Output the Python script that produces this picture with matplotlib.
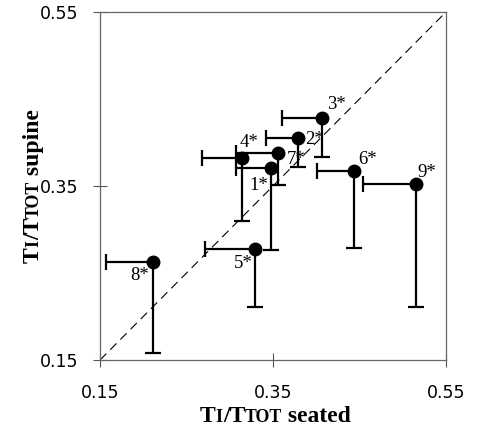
import numpy as np
import matplotlib
matplotlib.use('Agg')
import matplotlib.pyplot as plt


##DATA##########################################################################
subjects = ['1*', '2*', '3*', '4*', '5*', '6*', '7*', '8*', '9*']
seated = [0.348, 0.379, 0.407, 0.314, 0.329, 0.444, 0.356, 0.211, 0.515]
supine = [0.371, 0.405, 0.428, 0.382, 0.278, 0.367, 0.388, 0.263, 0.352]
seated_low = [0.307, 0.342, 0.360, 0.268, 0.271, 0.401, 0.307, 0.157, 0.454]
supine_low = [0.276, 0.372, 0.383, 0.310, 0.211, 0.279, 0.351, 0.158, 0.211]
ticks = [0.15, 0.35, 0.55]
################################################################################

# label offsets in pixels (dx, dy) from each point
label_offsets = [(-12, -18), (16, -1), (14, 14), (7, 16), (-12, -15),
                 (13, 12), (18, -7), (-13, -14), (11, 12)]

serif = ['Liberation Serif', 'DejaVu Serif']
sans = ['DejaVu Sans']

fig = plt.figure(figsize=(4.82, 4.32), dpi=100)
ax = fig.add_axes([100 / 482, 72 / 432, 346 / 482, 348 / 432])

ax.set_xlim(0.15, 0.55)
ax.set_ylim(0.15, 0.55)

# identity line
ax.plot([0.15, 0.55], [0.15, 0.55], color='k', linewidth=0.8,
        dashes=(8, 5), zorder=1)

# one-sided error bars: left and down
ax.hlines(supine, seated_low, seated, color='k', linewidth=1.6, zorder=2)
ax.vlines(seated, supine_low, supine, color='k', linewidth=1.6, zorder=2)
ax.plot(seated_low, supine, linestyle='none', marker='|', markersize=11,
        markeredgewidth=1.6, color='k', zorder=2)
ax.plot(seated, supine_low, linestyle='none', marker='_', markersize=11,
        markeredgewidth=1.6, color='k', zorder=2)

ax.plot(seated, supine, linestyle='none', marker='o', markersize=9,
        color='k', zorder=3)

for s, x, y, off in zip(subjects, seated, supine, label_offsets):
    ax.annotate(s, (x, y), xytext=off, textcoords='offset pixels',
                ha='center', va='center', fontsize=13.5, family=serif)

ax.set_xticks(ticks)
ax.set_yticks(ticks)
ax.set_xticklabels(['%.2f' % t for t in ticks], family=sans, fontsize=12.5)
ax.set_yticklabels(['%.2f' % t for t in ticks], family=sans, fontsize=12.5)
ax.tick_params(axis='both', direction='inout', length=10, width=0.8,
               color='#555555')
ax.tick_params(axis='x', pad=12)
ax.tick_params(axis='y', pad=10.5)
for sp in ax.spines.values():
    sp.set_color('#666666')
    sp.set_linewidth(0.9)

# axis titles with small caps pieces, chained along the baseline
big, small = 17, 12.75
shift = 0.216 * (big - small)  # descent difference, keeps one baseline
pieces_x = [('T', big), ('I', small), ('/T', big), ('TOT', small), (' seated', big)]
pieces_y = [('T', big), ('I', small), ('/T', big), ('TOT', small), (' supine', big)]

prev = fig.text(200 / 482, 5 / 432, pieces_x[0][0], fontsize=pieces_x[0][1],
                family=serif, weight='bold', ha='left', va='bottom')
prev_size = big
for s, size in pieces_x[1:]:
    d = shift if size < prev_size else -shift
    prev = ax.annotate(s, xy=(1, 0), xycoords=prev, xytext=(0, d),
                       textcoords='offset points', ha='left', va='bottom',
                       fontsize=size, family=serif, weight='bold')
    prev_size = size

prev = fig.text(44 / 482, (432 - 263) / 432, pieces_y[0][0], fontsize=pieces_y[0][1],
                family=serif, weight='bold', ha='right', va='bottom', rotation=90)
prev_size = big
for s, size in pieces_y[1:]:
    d = shift if size < prev_size else -shift
    prev = ax.annotate(s, xy=(1, 1), xycoords=prev, xytext=(-d, 0),
                       textcoords='offset points', ha='right', va='bottom',
                       fontsize=size, family=serif, weight='bold', rotation=90)
    prev_size = size

fig.savefig('out.png', dpi=100)
